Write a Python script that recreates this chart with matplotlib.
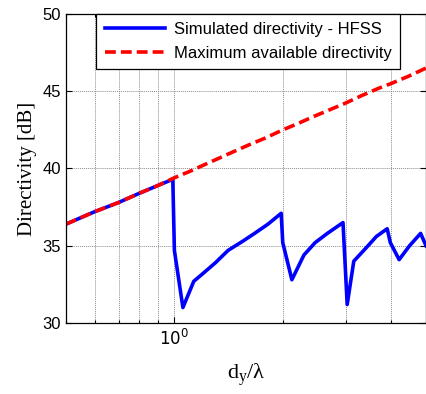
import matplotlib
matplotlib.use('Agg')
import matplotlib.pyplot as plt
from matplotlib.ticker import LogLocator, NullFormatter, FixedLocator

# maximum available directivity
x_max = [0.5, 0.6, 0.7, 0.8, 0.9, 1.0, 1.1, 1.2, 1.4, 1.6, 1.8, 2.0, 2.2,
         2.4, 2.7, 3.0, 3.3, 3.7, 4.0, 4.5, 5.0]
d_max = [36.4, 37.2, 37.8, 38.4, 38.9, 39.4, 39.8, 40.2, 40.9, 41.5, 42.0,
         42.5, 42.9, 43.3, 43.8, 44.25, 44.7, 45.2, 45.5, 46.0, 46.5]

# simulated directivity (HFSS)
x_sim = [0.5, 0.6, 0.7, 0.8, 0.9, 0.99, 1.0, 1.056, 1.132, 1.2, 1.3, 1.41,
         1.55, 1.67, 1.82, 1.98, 2.0, 2.12, 2.29, 2.46, 2.66, 2.94, 3.02,
         3.15, 3.42, 3.64, 3.9, 3.98, 4.21, 4.5, 4.83, 5.0]
d_sim = [36.4, 37.2, 37.8, 38.4, 38.9, 39.3, 34.7, 31.0, 32.7, 33.2, 33.9,
         34.7, 35.3, 35.8, 36.4, 37.1, 35.2, 32.8, 34.4, 35.2, 35.8, 36.5,
         31.2, 34.0, 34.9, 35.6, 36.1, 35.2, 34.1, 35.0, 35.8, 35.0]

plt.rcParams['font.family'] = 'Liberation Sans'
plt.rcParams['mathtext.fontset'] = 'custom'
plt.rcParams['mathtext.rm'] = 'Liberation Serif'

fig = plt.figure(figsize=(4.27, 3.94), dpi=100)
ax = fig.add_axes([0.1546, 0.1802, 0.8431, 0.7843])

ax.plot(x_sim, d_sim, color='#0000ff', lw=2.6, label='Simulated directivity - HFSS')
ax.plot(x_max, d_max, color='#ff0000', lw=2.6, ls=(0, (3, 1.4)),
        label='Maximum available directivity')

ax.set_xscale('log')
ax.set_xlim(0.5, 5)
ax.set_ylim(30, 50)
ax.xaxis.set_major_locator(FixedLocator([1.0]))
ax.xaxis.set_minor_locator(LogLocator(base=10, subs=range(2, 10)))
ax.xaxis.set_minor_formatter(NullFormatter())
ax.set_xticks([1.0])
ax.set_xticklabels([r'$\mathsf{10}^{\mathsf{0}}$'])
ax.set_yticks([30, 35, 40, 45, 50])

ax.grid(True, which='major', color='#8c8c8c', ls=(0, (1, 1)), lw=0.7)
ax.grid(True, which='minor', axis='x', color='#8c8c8c', ls=(0, (1, 1)), lw=0.7)
ax.tick_params(which='both', direction='in', top=True, right=True,
               labelsize=12, width=0.8, color='black')
ax.tick_params(which='major', length=4)
ax.tick_params(which='minor', length=2)
for s in ax.spines.values():
    s.set_linewidth(0.9)
    s.set_color('black')

ax.set_ylabel('Directivity [dB]', family='Liberation Serif', fontsize=15, labelpad=4)
ax.set_xlabel(r'$\mathrm{d_y/\lambda}$', fontsize=16, labelpad=10)

leg = ax.legend(loc='upper right', bbox_to_anchor=(0.928, 1.0), borderaxespad=0,
                fancybox=False, edgecolor='black', framealpha=1, fontsize=12,
                handlelength=3.6, handletextpad=0.55, borderpad=0.5,
                labelspacing=0.5)
leg.get_frame().set_linewidth(0.9)

plt.savefig('out.png', dpi=100)
